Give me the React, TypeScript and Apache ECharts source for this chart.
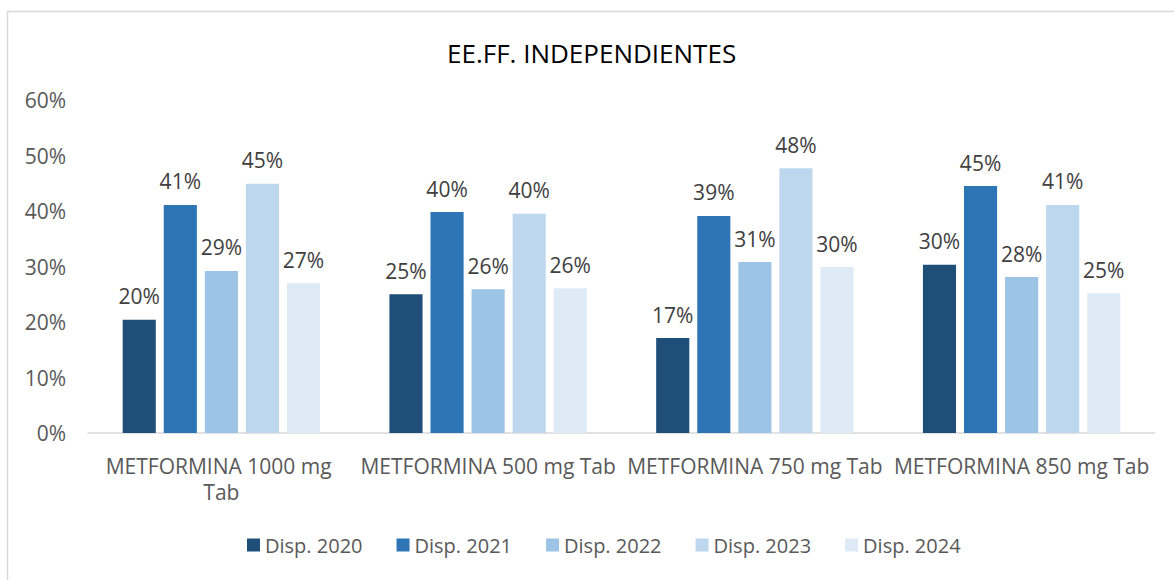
import React, { useEffect, useRef } from "react";
import * as echarts from "echarts";

const categories = [
  "METFORMINA 1000 mg Tab",
  "METFORMINA 500 mg Tab",
  "METFORMINA 750 mg Tab",
  "METFORMINA 850 mg Tab",
];
const seriesNames = ["Disp. 2020", "Disp. 2021", "Disp. 2022", "Disp. 2023", "Disp. 2024"];
const disp2020 = [20.4, 25.0, 17.1, 30.3];
const disp2021 = [41.1, 39.8, 39.1, 44.5];
const disp2022 = [29.2, 25.9, 30.8, 28.1];
const disp2023 = [44.9, 39.5, 47.7, 41.1];
const disp2024 = [27.0, 26.1, 29.9, 25.2];
const colors = ["#1F4E79", "#2E75B6", "#9DC3E6", "#BDD7EE", "#DEEBF7"];
const yTicks = [0, 10, 20, 30, 40, 50, 60];

const FONT = "'Open Sans', 'Noto Sans', sans-serif";

export default function App() {
  const ref = useRef<HTMLDivElement>(null);
  useEffect(() => {
    if (!ref.current) return;
    const chart = echarts.init(ref.current, null, { renderer: "svg" });
    const allData = [disp2020, disp2021, disp2022, disp2023, disp2024];
    chart.setOption({
      animation: false,
      backgroundColor: "#ffffff",
      title: {
        text: "EE.FF. INDEPENDIENTES",
        left: 442,
        top: 35,
        textStyle: { fontFamily: FONT, fontSize: 26, fontWeight: "normal", color: "#000000" },
      },
      graphic: [
        {
          type: "rect",
          shape: { x: 7.5, y: 11.5, width: 1180, height: 600 },
          style: { fill: "none", stroke: "#D9D9D9", lineWidth: 1.5 },
          silent: true,
        },
      ],
      legend: {
        bottom: 20,
        left: 242,
        itemWidth: 13,
        itemHeight: 13,
        itemGap: 34,
        icon: "rect",
        textStyle: { fontFamily: FONT, fontSize: 20, color: "#595959" },
        data: seriesNames,
      },
      grid: { left: 88, right: 19, top: 100, bottom: 147 },
      xAxis: {
        type: "category",
        data: categories,
        axisLine: { lineStyle: { color: "#D9D9D9", width: 1.5 } },
        axisTick: { show: false },
        axisLabel: {
          fontFamily: FONT,
          fontSize: 21,
          color: "#595959",
          margin: 20,
          lineHeight: 26,
          width: 262,
          overflow: "break",
          interval: 0,
        },
      },
      yAxis: {
        type: "value",
        min: yTicks[0],
        max: yTicks[yTicks.length - 1],
        interval: 10,
        splitLine: { show: false },
        axisLine: { show: false },
        axisTick: { show: false },
        axisLabel: {
          fontFamily: FONT,
          fontSize: 21,
          color: "#595959",
          margin: 22,
          formatter: (v: number) => v + "%",
        },
      },
      series: seriesNames.map((name, i) => ({
        name,
        type: "bar",
        data: allData[i],
        barGap: "24%",
        barCategoryGap: "26%",
        itemStyle: { color: colors[i] },
        label: {
          show: true,
          position: "top",
          distance: 13,
          fontFamily: FONT,
          fontSize: 21,
          color: "#404040",
          formatter: (p: any) => Math.round(p.value) + "%",
        },
      })),
    });
    return () => chart.dispose();
  }, []);
  return (
    <div
      ref={ref}
      style={{ position: "fixed", left: 0, top: 0, width: 1174, height: 580 }}
    />
  );
}
